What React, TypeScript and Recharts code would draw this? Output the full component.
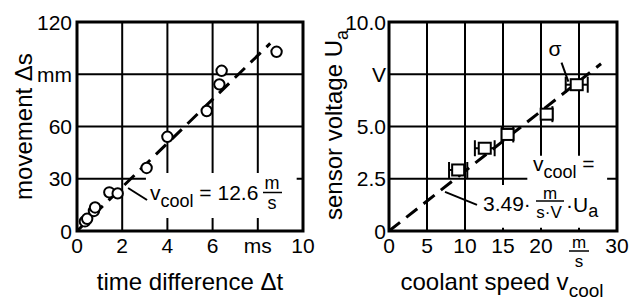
import {
  CartesianGrid,
  ComposedChart,
  ErrorBar,
  Line,
  ReferenceArea,
  ReferenceLine,
  Scatter,
  XAxis,
  YAxis,
} from "recharts";

const FONT = "'Liberation Sans', Arial, sans-serif";

// left panel: movement over time difference
const dtTicks = [0, 2, 4, 6, 8, 10];
const dtTickLabels = ["0", "2", "4", "6", "ms", "10"];
const dsTicks = [0, 30, 60, 90, 120];
const dsTickLabels = ["0", "30", "60", "mm", "120"];
const timeMs = [0.35, 0.45, 0.75, 0.8, 1.43, 1.8, 3.08, 4.0, 5.74, 6.3, 6.4, 8.83];
const moveMm = [5.5, 7.0, 11.5, 13.5, 22.2, 21.6, 36.2, 54.1, 68.9, 84.2, 92.0, 102.9];
const fitTime = [0, 8.55];
const fitMove = [0, 107.7];

// right panel: sensor voltage over coolant speed
const speedTicks = [0, 5, 10, 15, 20, 25, 30];
const speedTickLabels = ["0", "5", "10", "15", "20", "m/s", "30"];
const voltTicks = [0, 2.5, 5, 7.5, 10];
const voltTickLabels = ["0", "2.5", "5.0", "V", "10.0"];
const speed = [9.1, 12.6, 15.6, 20.75, 24.7];
const voltage = [2.92, 3.96, 4.62, 5.59, 7.0];
const sigma = [1.2, 1.3, 0.75, 0.75, 1.45];
const fitSpeed = [0, 27.9];
const fitVolt = [0, 8.0];

const moveData = timeMs.map((x, i) => ({ x, y: moveMm[i] }));
const moveFit = fitTime.map((x, i) => ({ x, y: fitMove[i] }));
const voltData = speed.map((x, i) => ({ x, y: voltage[i], err: sigma[i] }));
const voltFit = fitSpeed.map((x, i) => ({ x, y: fitVolt[i] }));

const txt = { fontFamily: FONT, fill: "#000" };

function yTick(ticks: number[], labels: string[]) {
  return (p: any) => (
    <text x={p.x} y={p.y} textAnchor="end" dominantBaseline="central" fontSize={21} style={txt}>
      {labels[ticks.indexOf(p.payload.value)]}
    </text>
  );
}

function xTick(ticks: number[], labels: string[]) {
  return (p: any) => {
    const label = labels[ticks.indexOf(p.payload.value)];
    if (label === "m/s") {
      // unit written as a small fraction under the 25 tick
      return (
        <g>
          <text x={p.x} y={p.y + 17} textAnchor="middle" fontSize={17} style={txt}>m</text>
          <line x1={p.x - 10} x2={p.x + 10} y1={p.y + 20} y2={p.y + 20} stroke="#000" strokeWidth={1.5} />
          <text x={p.x} y={p.y + 35.5} textAnchor="middle" fontSize={17} style={txt}>s</text>
        </g>
      );
    }
    return (
      <text x={p.x} y={p.y + 22} textAnchor="middle" fontSize={21} style={txt}>
        {label}
      </text>
    );
  };
}

const circle = (p: any) => (
  <circle cx={p.cx} cy={p.cy} r={5.2} fill="#fff" stroke="#000" strokeWidth={2} />
);
const square = (p: any) => (
  <rect x={p.cx - 6} y={p.cy - 5.5} width={12} height={11} fill="#fff" stroke="#000" strokeWidth={2} />
);

function MovementChart() {
  return (
    <ComposedChart width={320} height={301} margin={{ top: 22, right: 17, bottom: 0, left: 0 }}>
      <CartesianGrid stroke="#000" strokeWidth={2} />
      <XAxis
        type="number"
        dataKey="x"
        domain={[0, 10]}
        ticks={dtTicks}
        interval={0}
        height={70}
        axisLine={false}
        tickLine={false}
        tickSize={0}
        tickMargin={0}
        tick={xTick(dtTicks, dtTickLabels)}
        allowDataOverflow
      />
      <YAxis
        type="number"
        dataKey="y"
        domain={[0, 120]}
        ticks={dsTicks}
        interval={0}
        width={77}
        axisLine={false}
        tickLine={false}
        tickSize={0}
        tickMargin={5}
        tick={yTick(dsTicks, dsTickLabels)}
        allowDataOverflow
      />
      <ReferenceArea x1={3.05} x2={9.72} y1={7.5} y2={33.3} fill="#fff" fillOpacity={1} stroke="none" />
      <ReferenceArea x1={0} x2={10} y1={0} y2={120} fill="none" stroke="#000" strokeWidth={3} />
      <ReferenceLine
        segment={[
          { x: 2.26, y: 24.7 },
          { x: 3.1, y: 17.8 },
        ]}
        stroke="#000"
        strokeWidth={2}
      />
      <Line
        data={moveFit}
        dataKey="y"
        stroke="#000"
        strokeWidth={3}
        strokeDasharray="14 8"
        dot={false}
        isAnimationActive={false}
      />
      <Scatter data={moveData} dataKey="y" shape={circle} isAnimationActive={false} />
    </ComposedChart>
  );
}

function VoltageChart() {
  return (
    <ComposedChart width={321} height={301} margin={{ top: 22, right: 24, bottom: 0, left: 0 }}>
      <CartesianGrid stroke="#000" strokeWidth={2} />
      <XAxis
        type="number"
        dataKey="x"
        domain={[0, 30]}
        ticks={speedTicks}
        interval={0}
        height={70}
        axisLine={false}
        tickLine={false}
        tickSize={0}
        tickMargin={0}
        tick={xTick(speedTicks, speedTickLabels)}
        allowDataOverflow
      />
      <YAxis
        type="number"
        dataKey="y"
        domain={[0, 10]}
        ticks={voltTicks}
        interval={0}
        width={69}
        axisLine={false}
        tickLine={false}
        tickSize={0}
        tickMargin={3}
        tick={yTick(voltTicks, voltTickLabels)}
        allowDataOverflow
      />
      <ReferenceArea x1={18.2} x2={28.7} y1={2.2} y2={3.6} fill="#fff" fillOpacity={1} stroke="none" />
      <ReferenceArea x1={11.8} x2={28.7} y1={0.15} y2={2.2} fill="#fff" fillOpacity={1} stroke="none" />
      <ReferenceArea x1={0} x2={30} y1={0} y2={10} fill="none" stroke="#000" strokeWidth={3} />
      <ReferenceLine
        segment={[
          { x: 7.37, y: 1.87 },
          { x: 11.58, y: 1.25 },
        ]}
        stroke="#000"
        strokeWidth={2}
      />
      <ReferenceLine
        segment={[
          { x: 22.7, y: 8.06 },
          { x: 23.6, y: 7.15 },
        ]}
        stroke="#000"
        strokeWidth={2}
      />
      <Line
        data={voltFit}
        dataKey="y"
        stroke="#000"
        strokeWidth={3}
        strokeDasharray="14 8"
        dot={false}
        isAnimationActive={false}
      />
      <Scatter data={voltData} dataKey="y" shape={square} isAnimationActive={false}>
        <ErrorBar dataKey="err" direction="x" width={8} stroke="#000" strokeWidth={2} />
      </Scatter>
    </ComposedChart>
  );
}

function Labels() {
  return (
    <svg width={641} height={301} style={{ position: "absolute", left: 0, top: 0, pointerEvents: "none" }}>
      <g style={txt}>
        <text transform="translate(32,126.5) rotate(-90)" textAnchor="middle" fontSize={24}>
          movement Δs
        </text>
        <text x={190} y={290} textAnchor="middle" fontSize={24}>
          time difference Δt
        </text>
        <text transform="translate(342,125) rotate(-90)" textAnchor="middle" fontSize={24}>
          sensor voltage U<tspan fontSize={18} dy={6}>a</tspan>
        </text>
        <text x={502} y={290} textAnchor="middle" fontSize={24}>
          coolant speed v<tspan fontSize={19} dy={7}>cool</tspan>
        </text>

        <text x={150} y={200} fontSize={21}>
          v<tspan fontSize={18} dy={7}>cool</tspan>
          <tspan dy={-7}> = 12.6</tspan>
        </text>
        <text x={272} y={188.5} textAnchor="middle" fontSize={18}>m</text>
        <line x1={263} x2={282} y1={192.5} y2={192.5} stroke="#000" strokeWidth={1.5} />
        <text x={272} y={209} textAnchor="middle" fontSize={18}>s</text>

        <text x={555} y={56} textAnchor="middle" fontSize={21}>σ</text>
        <text x={533} y={171} fontSize={21}>
          v<tspan fontSize={18} dy={7}>cool</tspan>
          <tspan dy={-7}> =</tspan>
        </text>
        <text x={483} y={211} fontSize={21}>3.49·</text>
        <text x={550} y={198.5} textAnchor="middle" fontSize={17}>m</text>
        <line x1={536} x2={564} y1={201} y2={201} stroke="#000" strokeWidth={1.5} />
        <text x={549} y={218} textAnchor="middle" fontSize={17}>s·V</text>
        <text x={566} y={212} fontSize={21}>
          ·U<tspan fontSize={18} dy={5}>a</tspan>
        </text>
      </g>
    </svg>
  );
}

export default function App() {
  return (
    <div style={{ position: "absolute", left: 0, top: 0, width: 641, height: 301, background: "#fff" }}>
      <div style={{ position: "absolute", left: 0, top: 0 }}>
        <MovementChart />
      </div>
      <div style={{ position: "absolute", left: 320, top: 0 }}>
        <VoltageChart />
      </div>
      <Labels />
    </div>
  );
}
